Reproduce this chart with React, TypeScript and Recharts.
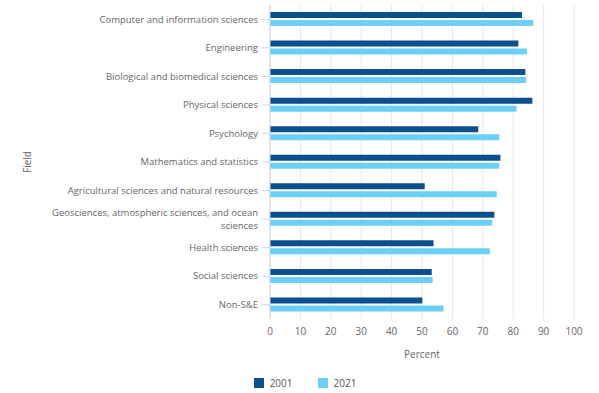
import React from "react";
import { Bar, BarChart, CartesianGrid, Legend, XAxis, YAxis } from "recharts";

const fields = [
  "Computer and information sciences",
  "Engineering",
  "Biological and biomedical sciences",
  "Physical sciences",
  "Psychology",
  "Mathematics and statistics",
  "Agricultural sciences and natural resources",
  "Geosciences, atmospheric sciences, and ocean sciences",
  "Health sciences",
  "Social sciences",
  "Non-S&E",
];
const pct2001 = [82.9, 81.7, 84.0, 86.3, 68.5, 75.8, 50.9, 73.8, 53.8, 53.2, 50.1];
const pct2021 = [86.6, 84.5, 84.3, 81.1, 75.4, 75.4, 74.6, 73.1, 72.3, 53.5, 57.1];
const percentTicks = [0, 10, 20, 30, 40, 50, 60, 70, 80, 90, 100];

const data = fields.map((field, i) => ({
  field,
  y2001: pct2001[i],
  y2021: pct2021[i],
}));

const FONT = "'Open Sans', sans-serif";
const DARK = "#0b4f8d";
const LIGHT = "#6dcff6";
const MAX_CHARS = 45;

// simple word wrap by character count
const wrap = (s: string) => {
  const lines: string[] = [];
  let cur = "";
  for (const w of s.split(" ")) {
    const next = cur ? cur + " " + w : w;
    if (next.length > MAX_CHARS && cur) {
      lines.push(cur);
      cur = w;
    } else cur = next;
  }
  if (cur) lines.push(cur);
  return lines;
};

const FieldTick = (props: any) => {
  const { x, y, payload } = props;
  const lines = wrap(String(payload.value));
  const lh = 13;
  const start = -((lines.length - 1) * lh) / 2;
  return (
    <g>
      {lines.map((l, i) => (
        <text
          key={i}
          x={x}
          y={y + start + i * lh}
          dy={3.3}
          textAnchor="end"
          fill="#666"
          style={{ fontSize: 9.5, fontFamily: FONT }}
        >
          {l}
        </text>
      ))}
    </g>
  );
};

const FieldLabel = (props: any) => {
  const { viewBox } = props;
  const cx = viewBox.x + 27;
  const cy = viewBox.y + viewBox.height / 2;
  return (
    <text
      x={cx}
      y={cy}
      transform={`rotate(-90, ${cx}, ${cy})`}
      textAnchor="middle"
      dominantBaseline="central"
      fill="#666"
      style={{ fontSize: 10, fontFamily: FONT }}
    >
      Field
    </text>
  );
};

const LegendContent = (props: any) => {
  const { payload } = props;
  return (
    <div
      style={{
        height: 29,
        display: "flex",
        justifyContent: "center",
        alignItems: "flex-start",
        paddingTop: 12,
        boxSizing: "border-box",
        paddingLeft: 36,
        fontFamily: FONT,
        fontSize: 10,
        color: "#555",
      }}
    >
      {payload.map((p: any, i: number) => (
        <div
          key={p.value}
          style={{ display: "flex", alignItems: "center", marginLeft: i === 0 ? 0 : 25 }}
        >
          <span style={{ width: 10, height: 10, background: p.color, marginRight: 6, display: "inline-block" }} />
          <span>{p.value}</span>
        </div>
      ))}
    </div>
  );
};

export default function App() {
  return (
    <div style={{ position: "absolute", left: 0, top: 0, background: "#fff" }}>
      <BarChart
        width={599}
        height={393}
        data={data}
        layout="vertical"
        margin={{ top: 5, right: 25, bottom: 0, left: 0 }}
        barSize={6}
        barGap={2}
      >
        <CartesianGrid horizontal={false} stroke="#e6e6e6" />
        <XAxis
          type="number"
          domain={[0, 100]}
          ticks={percentTicks}
          axisLine={false}
          tickLine={false}
          tickSize={7}
          tickMargin={2}
          height={45}
          tick={{ fontSize: 10, fill: "#666", fontFamily: FONT }}
          label={{
            value: "Percent",
            position: "insideBottom",
            offset: 6,
            style: { fontSize: 10, fill: "#666", fontFamily: FONT },
          }}
        />
        <YAxis
          type="category"
          dataKey="field"
          width={270}
          axisLine={{ stroke: "#ccd6eb" }}
          tickLine={{ stroke: "#ccd6eb" }}
          tickSize={8}
          tickMargin={4}
          interval={0}
          tick={<FieldTick />}
          label={<FieldLabel />}
        />
        <Legend verticalAlign="bottom" content={<LegendContent />} />
        <Bar dataKey="y2001" name="2001" fill={DARK} isAnimationActive={false} />
        <Bar dataKey="y2021" name="2021" fill={LIGHT} isAnimationActive={false} />
      </BarChart>
    </div>
  );
}
